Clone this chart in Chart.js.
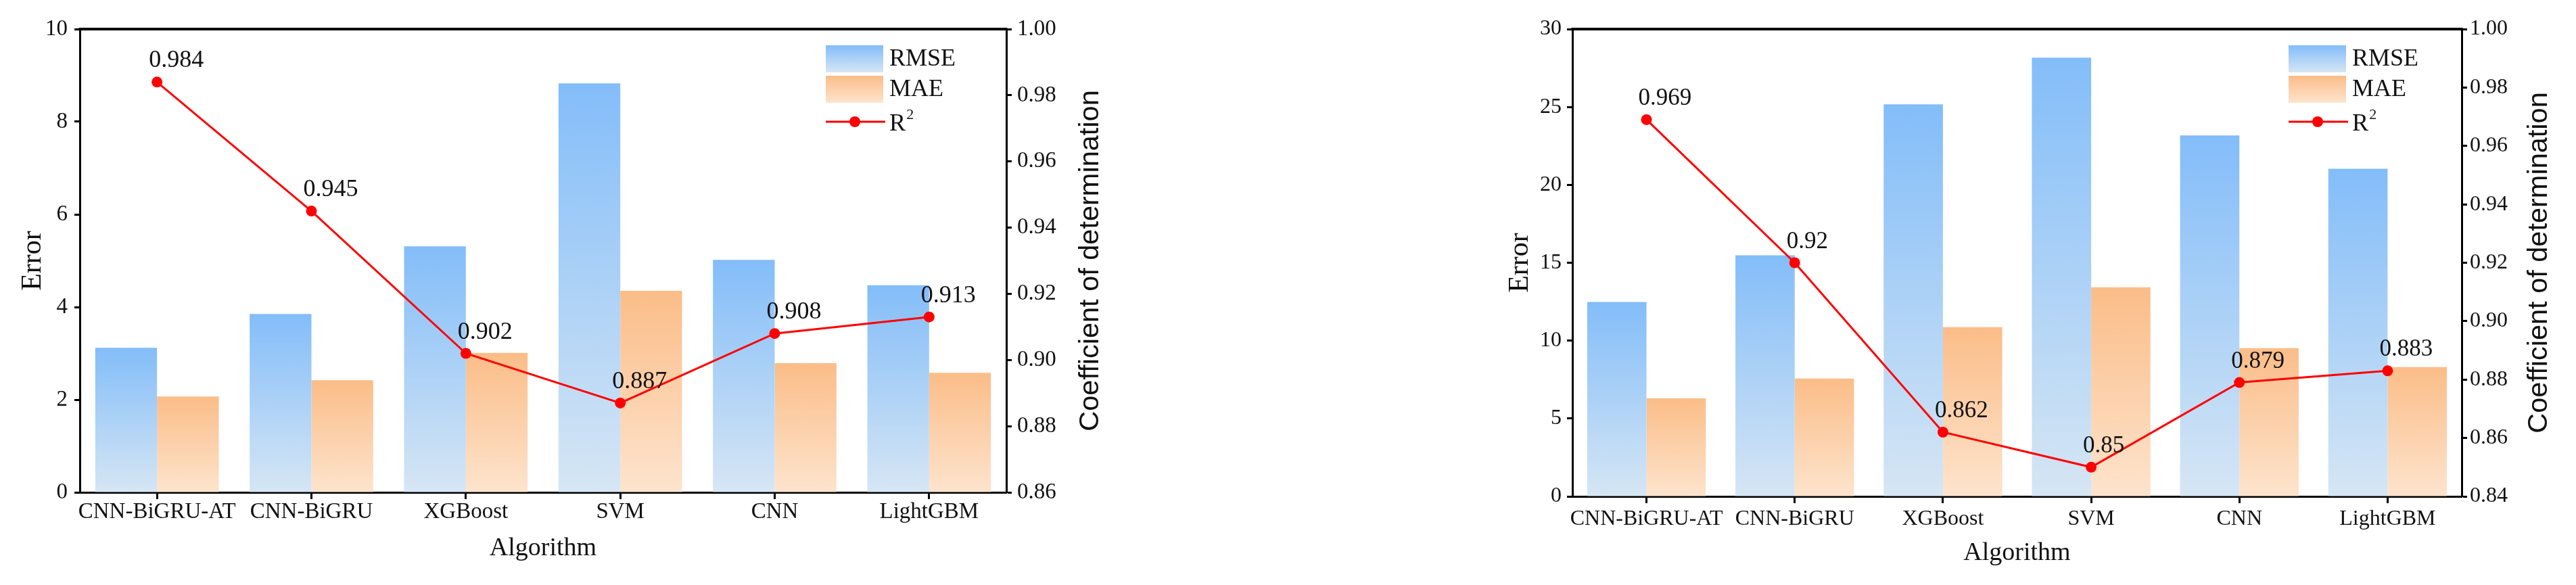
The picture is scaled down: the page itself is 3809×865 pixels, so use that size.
<!DOCTYPE html>
<html>
<head>
<meta charset="UTF-8">
<title>Error and R2 by algorithm</title>
<script src="https://cdn.jsdelivr.net/npm/chart.js@4.4.1/dist/chart.umd.min.js"></script>
<style>
  body { margin: 0; background: #fff; width: 3809px; height: 865px; overflow: hidden; position: relative; }
  .panel { position: absolute; top: 0; }
  #left { left: 0; }
  #right { left: 2180px; }
</style>
</head>
<body>
<div class="panel" id="left"><canvas id="chartA" width="1700" height="865"></canvas></div>
<div class="panel" id="right"><canvas id="chartB" width="1629" height="865"></canvas></div>
<script>
const algorithms = ['CNN-BiGRU-AT', 'CNN-BiGRU', 'XGBoost', 'SVM', 'CNN', 'LightGBM'];

// left panel
const rmseA = [3.12, 3.85, 5.31, 8.83, 5.02, 4.47];
const maeA = [2.07, 2.42, 3.01, 4.35, 2.79, 2.58];
const r2A = [0.984, 0.945, 0.902, 0.887, 0.908, 0.913];
const errTicksA = [0, 2, 4, 6, 8, 10];
const r2TicksA = [0.86, 0.88, 0.90, 0.92, 0.94, 0.96, 0.98, 1.00];

// right panel
const rmseB = [12.48, 15.48, 25.17, 28.17, 23.17, 21.04];
const maeB = [6.30, 7.57, 10.87, 13.43, 9.52, 8.30];
const r2B = [0.969, 0.92, 0.862, 0.85, 0.879, 0.883];
const errTicksB = [0, 5, 10, 15, 20, 25, 30];
const r2TicksB = [0.84, 0.86, 0.88, 0.90, 0.92, 0.94, 0.96, 0.98, 1.00];

const SERIF = "'Liberation Serif', 'Times New Roman', serif";
const SANS = "'Liberation Sans', Arial, sans-serif";
const INK = '#111';
const BLUE = ['#83bdf9', '#d6e6f4'];
const ORANGE = ['#fbbd88', '#fde4cd'];

Chart.defaults.font.family = SERIF;
Chart.defaults.color = INK;

function barGradient(colors) {
  return (c) => {
    const chart = c.chart;
    if (!chart.chartArea || c.type !== 'data') return colors[0];
    const y = chart.scales.y;
    const g = chart.ctx.createLinearGradient(0, y.getPixelForValue(c.raw), 0, y.getPixelForValue(0));
    g.addColorStop(0, colors[0]);
    g.addColorStop(1, colors[1]);
    return g;
  };
}

// top frame line, data labels, legend and right-hand title
const decor = {
  id: 'decor',
  afterDatasetsDraw(chart, args, o) {
    const ctx = chart.ctx;
    const a = chart.chartArea;
    ctx.save();
    ctx.strokeStyle = '#000';
    ctx.lineWidth = 4;
    ctx.beginPath();
    ctx.moveTo(a.left - 1.5, a.top);
    ctx.lineTo(a.right + 1.5, a.top);
    ctx.stroke();

    // R2 value labels
    const meta = chart.getDatasetMeta(0);
    const vals = chart.data.datasets[0].data;
    ctx.fillStyle = INK;
    ctx.font = o.labelSize + 'px ' + SERIF;
    ctx.textAlign = 'left';
    ctx.textBaseline = 'alphabetic';
    meta.data.forEach((pt, i) => {
      ctx.fillText(String(vals[i]), pt.x - 12, pt.y - 22);
    });

    // legend
    const lx = a.right - o.legendRight;
    const boxes = [[1, BLUE], [2, ORANGE]];
    ctx.font = o.legendSize + 'px ' + SERIF;
    ctx.textBaseline = 'middle';
    boxes.forEach(([di, col], k) => {
      const top = a.top + 24 + k * 45;
      const g = ctx.createLinearGradient(0, top, 0, top + 40);
      g.addColorStop(0, col[0]);
      g.addColorStop(1, col[1]);
      ctx.fillStyle = g;
      ctx.fillRect(lx, top, 85, 40);
      ctx.fillStyle = INK;
      ctx.fillText(chart.data.datasets[di].label, lx + 94, top + 21);
    });
    const ly = a.top + 137;
    ctx.strokeStyle = '#ff0000';
    ctx.lineWidth = 3;
    ctx.beginPath();
    ctx.moveTo(lx, ly);
    ctx.lineTo(lx + 88, ly);
    ctx.stroke();
    ctx.fillStyle = '#ff0000';
    ctx.beginPath();
    ctx.arc(lx + 43, ly, 8, 0, Math.PI * 2);
    ctx.fill();
    ctx.fillStyle = INK;
    ctx.textBaseline = 'alphabetic';
    ctx.fillText('R', lx + 94, ly + 13);
    ctx.font = Math.round(o.legendSize * 0.62) + 'px ' + SERIF;
    ctx.fillText('2', lx + 94 + o.legendSize * 0.7, ly - 4);

    // right axis title, reading bottom to top
    ctx.font = o.rightTitleSize + 'px ' + SANS;
    ctx.textAlign = 'center';
    ctx.textBaseline = 'middle';
    ctx.translate(o.rightTitleX, (a.top + a.bottom) / 2);
    ctx.rotate(-Math.PI / 2);
    ctx.fillText('Coefficient of determination', 0, 0);
    ctx.restore();
  }
};

function tickAxis(extra) {
  return Object.assign({
    grid: { drawOnChartArea: false, drawTicks: true, tickWidth: 3, tickColor: '#000' },
    border: { display: true, width: 3, color: '#000' }
  }, extra);
}

function makeChart(id, rmse, mae, r2, errTicks, r2Ticks, L) {
  return new Chart(document.getElementById(id), {
    type: 'bar',
    data: {
      labels: algorithms,
      datasets: [
        { type: 'line', label: 'R²', data: r2, yAxisID: 'y1', order: 0,
          borderColor: '#ff0000', backgroundColor: '#ff0000', borderWidth: 3,
          pointRadius: 8, pointHoverRadius: 8, pointBorderWidth: 0, tension: 0 },
        { label: 'RMSE', data: rmse, yAxisID: 'y', order: 1,
          backgroundColor: barGradient(BLUE), categoryPercentage: 0.8, barPercentage: 1 },
        { label: 'MAE', data: mae, yAxisID: 'y', order: 1,
          backgroundColor: barGradient(ORANGE), categoryPercentage: 0.8, barPercentage: 1 }
      ]
    },
    options: {
      responsive: false,
      animation: false,
      layout: { padding: { top: 43, left: 0, right: 0, bottom: 0 } },
      plugins: {
        legend: { display: false },
        tooltip: { enabled: false },
        decor: L.decor
      },
      scales: {
        x: {
          grid: { drawOnChartArea: false, drawTicks: true, tickLength: 10, tickWidth: 3, tickColor: '#000', offset: false },
          border: { display: true, width: 3, color: '#000' },
          ticks: { font: { size: L.tickSize }, padding: L.xPad, maxRotation: 0, autoSkip: false },
          title: { display: true, text: 'Algorithm', font: { size: 38 }, padding: { top: L.algoPad, bottom: L.algoPad } },
          afterFit: (s) => { s.height = L.xHeight; }
        },
        y: tickAxis({
          position: 'left',
          min: errTicks[0],
          max: errTicks[errTicks.length - 1],
          afterBuildTicks: (s) => { s.ticks = errTicks.map(v => ({ value: v })); },
          ticks: { font: { size: L.tickSize }, padding: L.yPad },
          title: { display: true, text: 'Error', font: { size: 42 }, padding: { top: L.errPad, bottom: 0 } },
          afterFit: (s) => { s.width = L.yWidth; }
        }),
        y1: tickAxis({
          position: 'right',
          min: r2Ticks[0],
          max: r2Ticks[r2Ticks.length - 1],
          afterBuildTicks: (s) => { s.ticks = r2Ticks.map(v => ({ value: v })); },
          ticks: { font: { size: L.tickSize }, padding: L.y1Pad, callback: (v) => Number(v).toFixed(2) },
          afterFit: (s) => { s.width = L.y1Width; }
        })
      }
    },
    plugins: [decor]
  });
}

makeChart('chartA', rmseA, maeA, r2A, errTicksA, r2TicksA, {
  tickSize: 33, xPad: 0, yPad: 10, y1Pad: 8, algoPad: 31, errPad: 24,
  xHeight: 137, yWidth: 118, y1Width: 212,
  decor: { labelSize: 36, legendSize: 36, legendRight: 267, rightTitleSize: 41.5, rightTitleX: 1613 }
});

makeChart('chartB', rmseB, maeB, r2B, errTicksB, r2TicksB, {
  tickSize: 32, xPad: 4, yPad: 8, y1Pad: 4, algoPad: 24, errPad: 43,
  xHeight: 131, yWidth: 145, y1Width: 169,
  decor: { labelSize: 35, legendSize: 36, legendRight: 256, rightTitleSize: 41.5, rightTitleX: 1575 }
});
</script>
</body>
</html>
